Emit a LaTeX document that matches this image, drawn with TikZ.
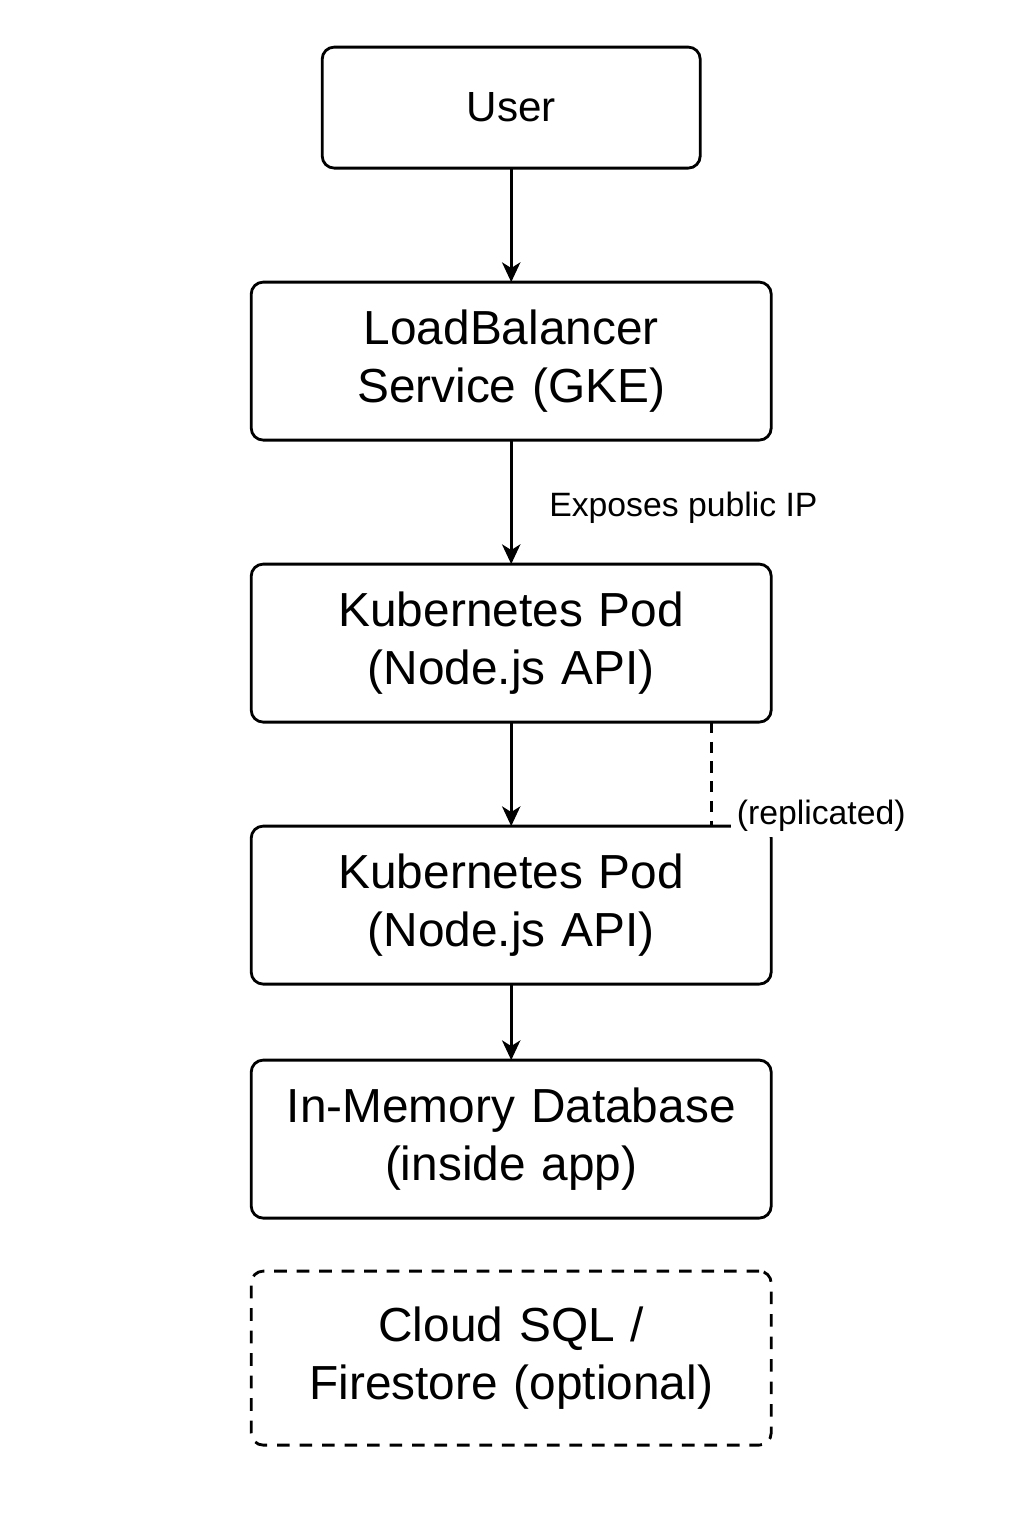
\documentclass[tikz,border=0pt]{standalone}
\usepackage{fontspec}
\setmainfont{Liberation Sans}
\usepackage{tikz}
\usetikzlibrary{arrows.meta, positioning}
\tikzstyle{block} = [rectangle, draw, line width=2pt, fill=white, align=center, outer sep=0pt,
    text width=12cm, minimum width=13cm, minimum height=3.95cm, rounded corners=0.3cm,
    font=\fontsize{34}{41}\selectfont]
\tikzstyle{optblock} = [block, dash pattern=on 9pt off 7pt, minimum height=4.35cm]
\tikzstyle{line} = [draw, line width=2pt, -{Stealth[length=14pt, width=13pt, inset=4pt]}]
\tikzstyle{note} = [font=\fontsize{24}{29}\selectfont]

\begin{document}
\begin{tikzpicture}
      \useasboundingbox (0,0) rectangle (25.6,-38.4);
      % Request path
      \node [block, text width=8.5cm, minimum width=9.45cm, minimum height=3.025cm,
        font=\fontsize{30}{36}\selectfont] (user) at (12.78,-2.69) {User};
      \node [block, below=2.85cm of user] (load-balancer) {LoadBalancer\\Service (GKE)};
      \node [block, below=3.1cm of load-balancer] (pod-a) {Kubernetes Pod\\(Node.js API)};
      \node [block, below=2.6cm of pod-a] (pod-b) {Kubernetes Pod\\(Node.js API)};
      \node [block, below=1.9cm of pod-b] (memory-db) {In-Memory Database\\(inside app)};
      \node [optblock, below=1.325cm of memory-db] (cloud-db) {Cloud SQL /\\Firestore (optional)};
      % Replica marker
      \coordinate (replica-top) at ([xshift=-1.5cm]pod-a.south east);
      \node [note, fill=white, inner sep=4pt] (replicated) at ([xshift=1.25cm, yshift=0.25cm]pod-b.north east) {(replicated)};
      % Draw edges
      \path [line] (user) -- (load-balancer);
      \path [line] (load-balancer) -- node [note, midway, anchor=west, xshift=0.8cm, yshift=-0.15cm] (public-ip) {Exposes public IP} (pod-a);
      \path [line] (pod-a) -- (pod-b);
      \path [line] (pod-b) -- (memory-db);
      \draw [line width=2pt, dash pattern=on 8pt off 6pt] (replica-top) -- (replica-top |- pod-b.north);
  \end{tikzpicture}
\end{document}
